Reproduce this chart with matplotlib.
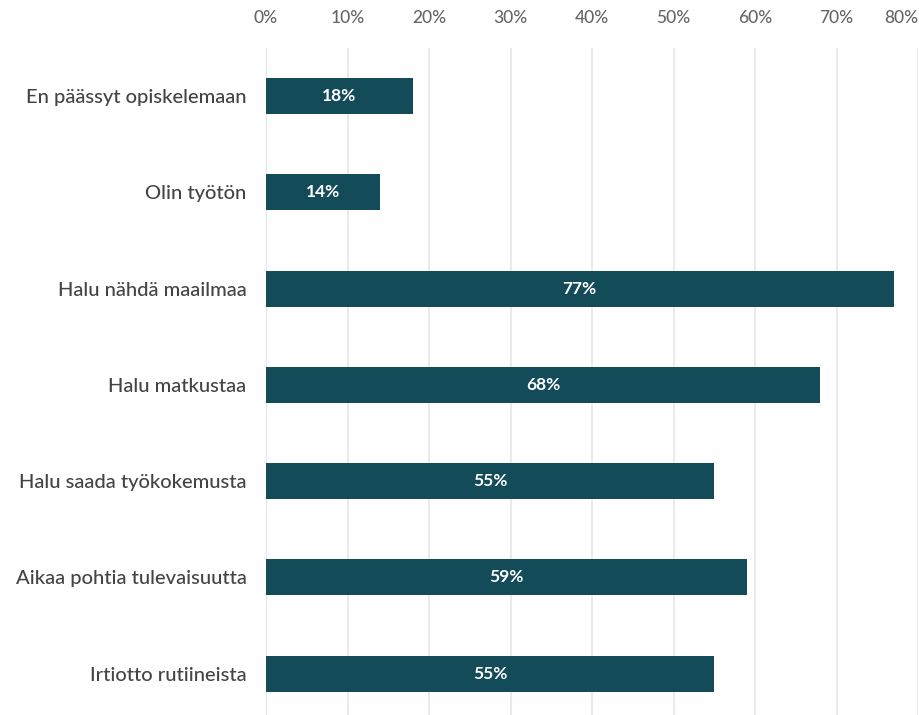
import matplotlib

matplotlib.use("Agg")
import matplotlib.pyplot as plt

categories = [
    "En päässyt opiskelemaan",
    "Olin työtön",
    "Halu nähdä maailmaa",
    "Halu matkustaa",
    "Halu saada työkokemusta",
    "Aikaa pohtia tulevaisuutta",
    "Irtiotto rutiineista",
]
values = [18, 14, 77, 68, 55, 59, 55]
ticks = [0, 10, 20, 30, 40, 50, 60, 70, 80]

BAR_COLOR = "#134b58"

plt.rcParams["font.family"] = ["Lato", "DejaVu Sans"]

fig = plt.figure(figsize=(9.19, 7.15), dpi=100)
ax = fig.add_axes([266 / 919, 0, 652 / 919, 1 - 48 / 715])

y = list(range(len(categories)))
bars = ax.barh(y, values, height=0.375, color=BAR_COLOR, zorder=3)
for b, v in zip(bars, values):
    ax.text(b.get_width() / 2, b.get_y() + b.get_height() / 2, f"{v}%",
            ha="center", va="center", color="white", fontsize=12.5,
            fontweight="bold", zorder=4)

ax.set_xlim(0, 80)
ax.set_ylim(6.43, -0.5)
ax.set_yticks(y)
ax.set_yticklabels(categories, fontsize=14.5, color="#444444", fontweight="medium")
ax.set_xticks(ticks)
ax.set_xticklabels([f"{t}%" for t in ticks], fontsize=12.5, color="#666666",
                   fontweight="medium")
ax.xaxis.tick_top()
ax.tick_params(axis="x", length=0, pad=16)
ax.tick_params(axis="y", length=0, pad=14)
ax.get_xticklabels()[-1].set_ha("right")
ax.get_xticklabels()[-1].set_x(80)

ax.grid(axis="x", color="#e6e6e6", linewidth=1.2, zorder=0)
for s in ax.spines.values():
    s.set_visible(False)
ax.axvline(0, color="#ccd6eb", linewidth=1.2, zorder=1)

fig.savefig("out.png", dpi=100)
